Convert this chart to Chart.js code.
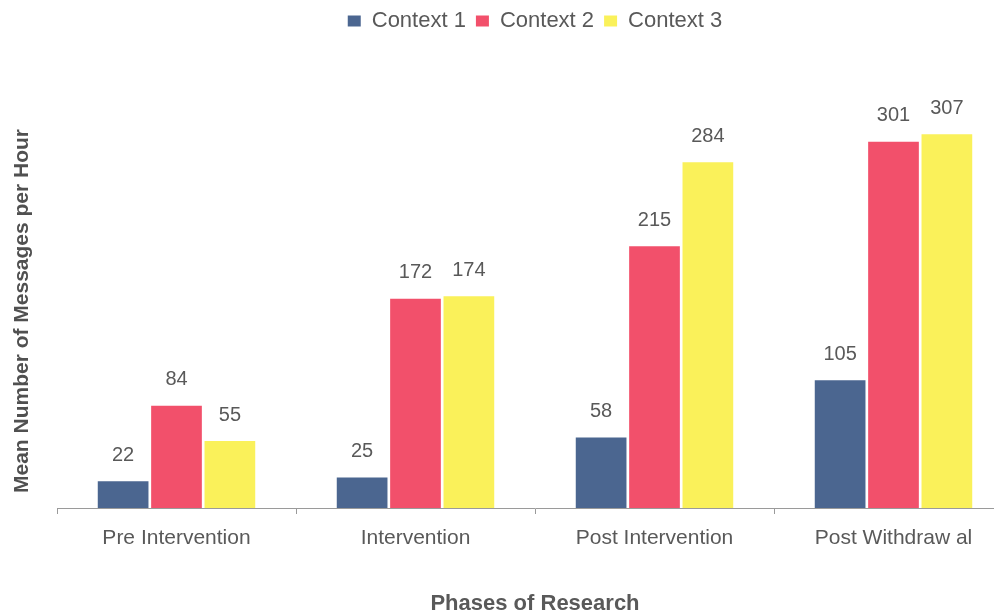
<!DOCTYPE html>
<html>
<head>
<meta charset="utf-8">
<script src="https://cdn.jsdelivr.net/npm/chart.js@4/dist/chart.umd.min.js"></script>
<style>
    html, body { margin: 0; padding: 0; background: #fff; overflow: hidden; }
    #wrap { position: relative; width: 1062px; height: 614px; }
</style>
</head>
<body>
<div id="wrap"><canvas id="chartPhases"></canvas></div>
<script>
    // Datos
    const phases = ['Pre Intervention', 'Intervention', 'Post Intervention', 'Post Withdraw al'];
    const context1 = [22, 25, 58, 105];
    const context2 = [84, 172, 215, 301];
    const context3 = [55, 174, 284, 307];
    const seriesNames = ['Context 1', 'Context 2', 'Context 3'];
    const seriesColors = ['#4b6690', '#f2506b', '#faf15a'];

    const FONT = "'Liberation Sans', Arial, sans-serif";
    const TEXT = '#595959';

    // Etiquetas de valor encima de cada barra
    const valueLabels = {
        id: 'valueLabels',
        afterDatasetsDraw(chart) {
            const ctx = chart.ctx;
            ctx.save();
            ctx.font = '20px ' + FONT;
            ctx.fillStyle = TEXT;
            ctx.textAlign = 'center';
            ctx.textBaseline = 'middle';
            chart.data.datasets.forEach((ds, i) => {
                chart.getDatasetMeta(i).data.forEach((bar, j) => {
                    ctx.fillText(String(ds.data[j]), bar.x, bar.y - 26);
                });
            });
            ctx.restore();
        }
    };

    // Titulo del eje Y (eje oculto)
    const yTitle = {
        id: 'yTitle',
        afterDraw(chart) {
            const ctx = chart.ctx;
            ctx.save();
            ctx.translate(22, 311);
            ctx.rotate(-Math.PI / 2);
            ctx.font = 'bold 21px ' + FONT;
            ctx.fillStyle = '#505050';
            ctx.textAlign = 'center';
            ctx.textBaseline = 'middle';
            ctx.fillText('Mean Number of Messages per Hour', 0, 0);
            ctx.restore();
        }
    };

    // Altura fija de la leyenda
    const legendHeight = {
        id: 'legendHeight',
        beforeLayout(chart) {
            const lg = chart.legend;
            if (lg && !lg._patched) {
                const orig = lg.fit;
                lg.fit = function() {
                    orig.call(this);
                    this.height = 82;
                };
                lg._patched = true;
            }
        }
    };

    new Chart(document.getElementById('chartPhases'), {
        type: 'bar',
        data: {
            labels: phases,
            datasets: [context1, context2, context3].map((d, i) => ({
                label: seriesNames[i],
                data: d,
                backgroundColor: seriesColors[i],
                categoryPercentage: 0.67,
                barPercentage: 0.95
            }))
        },
        options: {
            responsive: true,
            maintainAspectRatio: false,
            animation: false,
            layout: { padding: { left: 57, right: 49, top: 0, bottom: 0 } },
            plugins: {
                legend: {
                    position: 'top',
                    labels: {
                        boxWidth: 13,
                        boxHeight: 11,
                        padding: 10,
                        color: TEXT,
                        font: { family: FONT, size: 22 }
                    }
                },
                tooltip: { enabled: false }
            },
            scales: {
                x: {
                    grid: {
                        display: true,
                        drawOnChartArea: false,
                        drawTicks: true,
                        tickLength: 6,
                        color: '#9a9a9a',
                        offset: true
                    },
                    border: { display: true, color: '#9a9a9a' },
                    ticks: {
                        color: TEXT,
                        padding: 12,
                        maxRotation: 0,
                        font: { family: FONT, size: 21 }
                    },
                    title: {
                        display: true,
                        text: 'Phases of Research',
                        color: TEXT,
                        padding: { top: 0, bottom: -3 },
                        font: { family: FONT, size: 22, weight: 'bold' }
                    },
                    afterFit(scale) { scale.height = 106; }
                },
                y: {
                    display: false,
                    min: 0,
                    max: 350
                }
            }
        },
        plugins: [valueLabels, yTitle, legendHeight]
    });
</script>
</body>
</html>
